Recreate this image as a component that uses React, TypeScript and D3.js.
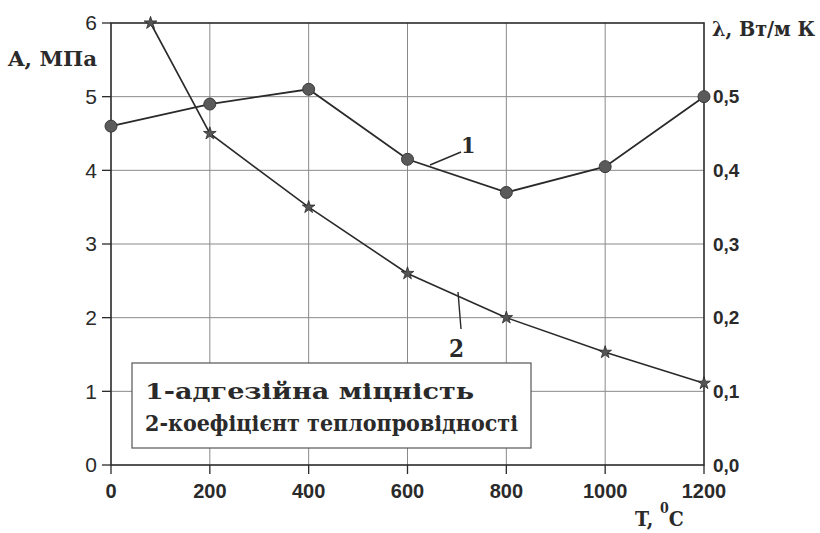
import React from "react";
import * as d3 from "d3";

const tempTicks = [0, 200, 400, 600, 800, 1000, 1200];
const leftTicks = [0, 1, 2, 3, 4, 5, 6];
const rightTicks = [0, 0.1, 0.2, 0.3, 0.4, 0.5];
const rightTickLabels = ["0,0", "0,1", "0,2", "0,3", "0,4", "0,5"];

const adhesionT = [0, 200, 400, 600, 800, 1000, 1200];
const adhesionA = [4.6, 4.9, 5.1, 4.15, 3.7, 4.05, 5.0];

const conductT = [80, 200, 400, 600, 800, 1000, 1200];
const conductL = [0.6, 0.45, 0.35, 0.26, 0.2, 0.153, 0.111];

const legendLines = ["1-адгезійна міцність", "2-коефіцієнт теплопровідності"];
const legendWidths = [329, 373];

export default function App() {
  const W = 820, H = 533;
  const x = d3.scaleLinear().domain([0, 1200]).range([111, 704]);
  const yL = d3.scaleLinear().domain([0, 6]).range([465, 23]);
  const yR = d3.scaleLinear().domain([0, 0.6]).range([465, 23]);

  const line1 = d3.line<number>().x((_, i) => x(adhesionT[i])).y((d) => yL(d));
  const line2 = d3.line<number>().x((_, i) => x(conductT[i])).y((d) => yR(d));
  const star = d3.symbol().type(d3.symbolStar).size(50)();

  const sans = "'Liberation Sans', Arial, sans-serif";
  const serif = "'DejaVu Serif Condensed', 'DejaVu Serif', serif";
  const ink = "#2a2a2a";

  return (
    <svg width={W} height={H} style={{ position: "absolute", left: 0, top: 0, background: "#fff" }}>
      <rect x={0} y={0} width={W} height={H} fill="#fff" />
      {/* grid */}
      {tempTicks.slice(1, -1).map((t) => (
        <line key={"gx" + t} x1={x(t)} x2={x(t)} y1={yL(6)} y2={yL(0)} stroke="#8a8a8a" strokeWidth={1} />
      ))}
      {leftTicks.slice(1, -1).map((t) => (
        <line key={"gy" + t} x1={x(0)} x2={x(1200)} y1={yL(t)} y2={yL(t)} stroke="#8a8a8a" strokeWidth={1} />
      ))}
      {/* frame */}
      <rect x={x(0)} y={yL(6)} width={x(1200) - x(0)} height={yL(0) - yL(6)} fill="none" stroke={ink} strokeWidth={1.6} />
      {/* left ticks */}
      {leftTicks.map((t) => (
        <g key={"lt" + t}>
          <line x1={x(0) - 9} x2={x(0)} y1={yL(t)} y2={yL(t)} stroke={ink} strokeWidth={1.3} />
          <text x={x(0) - 14} y={yL(t)} dy="0.35em" textAnchor="end" fontFamily={sans} fontSize={21} fill={ink}>
            {t}
          </text>
        </g>
      ))}
      {/* right ticks */}
      {rightTicks.map((t, i) => (
        <text key={"rt" + t} x={x(1200) + 9} y={yR(t)} dy="0.35em" fontFamily={sans} fontWeight="bold" fontSize={19} fill={ink}>
          {rightTickLabels[i]}
        </text>
      ))}
      {/* bottom ticks */}
      {tempTicks.map((t) => (
        <g key={"bt" + t}>
          <line x1={x(t)} x2={x(t)} y1={yL(0)} y2={yL(0) + 9} stroke={ink} strokeWidth={1.3} />
          <text x={x(t)} y={yL(0) + 33} textAnchor="middle" fontFamily={sans} fontWeight="bold" fontSize={20} fill={ink}>
            {t}
          </text>
        </g>
      ))}
      {/* axis titles */}
      <text x={8} y={66} fontFamily={serif} fontWeight="bold" fontSize={20} textLength={89} lengthAdjust="spacingAndGlyphs" fill={ink}>A, МПа</text>
      <text x={712} y={36} fontFamily={serif} fontWeight="bold" fontSize={20} textLength={103} lengthAdjust="spacingAndGlyphs" fill={ink}>λ, Вт/м К</text>
      <text x={635} y={526} fontFamily={serif} fontWeight="bold" fontSize={21} fill={ink}>
        T, <tspan dy={-13} fontSize={14}>0</tspan><tspan dy={13}>C</tspan>
      </text>
      {/* series 2 */}
      <path d={line2(conductL) || ""} fill="none" stroke={ink} strokeWidth={1.6} />
      {conductL.map((v, i) => (
        <path key={"s" + i} d={star || ""} transform={`translate(${x(conductT[i])},${yR(v)})`} fill="#555" stroke={ink} strokeWidth={0.8} />
      ))}
      {/* series 1 */}
      <path d={line1(adhesionA) || ""} fill="none" stroke={ink} strokeWidth={1.8} />
      {adhesionA.map((v, i) => (
        <circle key={"c" + i} cx={x(adhesionT[i])} cy={yL(v)} r={6} fill="#5a5a5a" stroke="#3a3a3a" strokeWidth={1} />
      ))}
      {/* annotations */}
      <line x1={430} y1={165} x2={461} y2={152} stroke={ink} strokeWidth={1.4} />
      <text x={461} y={153} fontFamily={serif} fontWeight="bold" fontSize={23} fill={ink}>1</text>
      <line x1={458} y1={292} x2={461} y2={329} stroke={ink} strokeWidth={1.4} />
      <text x={449} y={357} fontFamily={serif} fontWeight="bold" fontSize={24} fill={ink}>2</text>
      {/* legend */}
      <rect x={132} y={363} width={399} height={85} fill="#fff" stroke="#555" strokeWidth={1.2} />
      {legendLines.map((s, i) => (
        <text key={s} x={145} y={399 + i * 32} fontFamily={serif} fontWeight="bold" fontSize={23} textLength={legendWidths[i]} lengthAdjust="spacingAndGlyphs" fill={ink}>
          {s}
        </text>
      ))}
    </svg>
  );
}
